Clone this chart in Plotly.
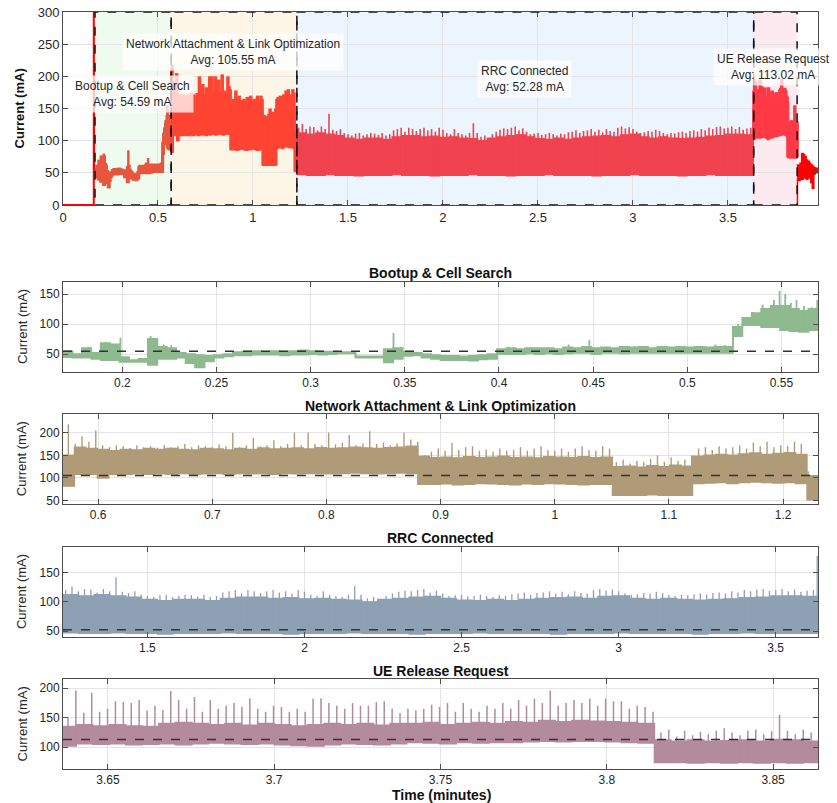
import plotly.graph_objects as go

# ---------------- data ----------------
phase_names = ["Bootup & Cell Search", "Network Attachment & Link Optimization",
               "RRC Connected", "UE Release Request"]
phase_avg = [54.59, 105.55, 52.28, 113.02]
phase_bounds = [0.1685, 0.5693, 1.2310, 3.6355, 3.8640]   # minutes

# Bootup & Cell Search: 80 samples (low / high envelope, mA)
boot_lo = [45, 44, 44, 42, 40, 40, 37, 37, 37, 32, 42, 42, 44, 35, 28, 38, 44, 46, 48, 48,
           49, 49, 49, 48, 49, 49, 50, 49, 50, 51, 51, 44, 44, 44, 36, 42, 47, 48, 44, 42,
           40, 40, 40, 39, 41, 42, 50, 50, 50, 51, 50, 51, 50, 51, 52, 52, 50, 52, 52, 51,
           52, 52, 52, 52, 52, 52, 52, 52, 52, 52, 52, 80, 98, 98, 95, 95, 90, 88, 87, 90]
boot_hi = [55, 50, 60, 52, 68, 66, 45, 40, 42, 75, 62, 60, 52, 50, 48, 47, 48, 50, 53, 54,
           55, 54, 55, 54, 55, 56, 55, 54, 54, 53, 53, 46, 46, 46, 58, 60, 54, 52, 50, 48,
           47, 47, 46, 47, 48, 50, 58, 60, 58, 60, 60, 60, 58, 61, 60, 62, 60, 61, 60, 62,
           61, 62, 60, 62, 61, 62, 61, 62, 61, 62, 62, 95, 110, 118, 125, 130, 130, 125, 122, 125]
boot_spike_t = [0.182, 0.191, 0.193, 0.199, 0.215, 0.217, 0.222, 0.226, 0.344, 0.348, 0.405,
                0.437, 0.448, 0.472, 0.515, 0.520, 0.527, 0.535, 0.540, 0.543, 0.546, 0.549,
                0.552, 0.555, 0.558, 0.562, 0.566, 0.569]
boot_spike_v = [62, 70, 68, 77, 80, 72, 66, 65, 85, 62, 62, 66, 73, 63, 66, 65, 100, 120, 132,
                125, 140, 155, 150, 135, 140, 130, 128, 140]

# Network Attachment & Link Optimization: 66 samples
net_lo = [82, 108, 108, 100, 108, 108, 109, 108, 109, 108, 110, 108, 109, 110, 108, 110, 109, 110, 108, 110,
          109, 110, 110, 109, 110, 111, 110, 109, 110, 111, 110, 86, 86, 87, 85, 86, 88, 87, 86, 85,
          87, 86, 88, 87, 86, 85, 86, 86, 62, 62, 62, 63, 62, 62, 62, 88, 89, 90, 88, 90,
          91, 90, 89, 90, 88, 52]
net_hi = [150, 168, 165, 163, 160, 163, 162, 165, 163, 165, 163, 162, 165, 164, 162, 165, 163, 166, 164, 165,
          166, 164, 167, 165, 166, 168, 166, 165, 167, 168, 170, 148, 145, 146, 144, 147, 145, 146, 148, 145,
          146, 144, 147, 146, 145, 147, 145, 146, 125, 126, 124, 127, 125, 128, 126, 148, 150, 152, 150, 153,
          155, 152, 154, 156, 152, 105]
net_spike_t0, net_spike_dt = 0.574, 0.006
net_spike_v = [218, 175, 192, 180, 205, 172, 168, 172, 170, 166, 172, 168, 170, 167, 172, 168, 170, 175, 168, 172,
               170, 168, 174, 170, 200, 168, 172, 188, 170, 172, 183, 170, 175, 200, 172, 200, 175, 172, 200, 174,
               178, 195, 172, 176, 203, 175, 178, 172, 176, 200, 185, 180, 150, 158, 165, 160, 178, 162, 168, 170,
               160, 163, 158, 165, 160, 162, 168, 160, 165, 170, 162, 160, 165, 158, 165, 170, 162, 160, 170, 165,
               135, 140, 132, 138, 135, 142, 150, 136, 145, 138, 140, 150, 165, 168, 162, 170, 165, 168, 172, 165,
               178, 170, 180, 168, 172, 170, 180, 175, 115, 100]

# RRC Connected: 48 samples
rrc_lo = [47, 46, 46, 47, 46, 46, 45, 46, 46, 46, 47, 46, 46, 46, 45, 46, 46, 46, 47, 46,
          46, 46, 45, 46, 46, 46, 47, 46, 46, 46, 46, 45, 46, 46, 46, 47, 46, 46, 46, 46,
          45, 46, 46, 47, 46, 46, 46, 46]
rrc_hi = [112, 110, 112, 110, 108, 104, 102, 104, 104, 102, 106, 108, 108, 106, 107, 105, 106, 104, 103, 100,
          104, 106, 108, 109, 106, 103, 102, 104, 102, 104, 106, 107, 108, 106, 109, 110, 106, 104, 106, 104,
          103, 104, 105, 107, 108, 110, 110, 109]
rrc_spike_t0, rrc_spike_dt = 1.240, 0.02
rrc_spike_v = [120, 126, 118, 122, 121, 116, 122, 118, 142, 117, 115, 118, 112, 110, 108, 111, 112, 108, 110, 112,
               111, 109, 112, 108, 110, 116, 118, 120, 114, 120, 118, 115, 118, 120, 116, 118, 114, 120, 117, 112,
               110, 118, 112, 110, 108, 112, 127, 112, 106, 108, 104, 110, 114, 117, 119, 118, 120, 122, 116, 119,
               114, 110, 111, 112, 109, 110, 112, 110, 108, 111, 110, 113, 114, 116, 112, 115, 116, 118, 114, 117,
               113, 118, 115, 114, 120, 122, 119, 121, 118, 114, 112, 113, 115, 114, 117, 115, 112, 110, 112, 111,
               113, 114, 112, 115, 116, 114, 118, 116, 120, 118, 121, 122, 119, 120, 122, 118, 121, 117, 119, 120]
rrc_extra_t = [3.632]
rrc_extra_v = [178]

# UE Release Request: 46 samples
ue_lo = [102, 106, 105, 106, 104, 105, 106, 104, 106, 107, 106, 105, 106, 104, 103, 102, 104, 106, 105, 104,
         106, 108, 107, 106, 108, 107, 108, 108, 109, 110, 109, 110, 110, 109, 108, 107, 74, 74, 73, 74,
         73, 74, 73, 74, 73, 74]
ue_hi = [135, 138, 136, 138, 136, 135, 140, 142, 140, 138, 140, 137, 140, 138, 136, 138, 140, 138, 140, 137,
         140, 140, 142, 138, 140, 142, 140, 143, 142, 145, 143, 145, 144, 143, 142, 140, 112, 110, 112, 110,
         111, 112, 110, 113, 112, 110]
ue_spike_t0, ue_spike_dt = 3.638, 0.002377
ue_spike_v = [150, 196, 158, 192, 160, 165, 178, 177, 175, 180, 162, 170, 163, 195, 180, 165, 185, 160, 180, 165,
              170, 175, 168, 183, 165, 160, 170, 168, 160, 165, 160, 182, 183, 175, 170, 165, 175, 170, 170, 176,
              178, 165, 158, 165, 162, 165, 172, 168, 175, 160, 175, 165, 160, 170, 165, 175, 165, 180, 170, 182,
              175, 196, 170, 175, 180, 175, 182, 170, 182, 178, 178, 165, 170, 168, 160, 125, 130, 118, 128, 120,
              126, 122, 128, 132, 125, 120, 128, 130, 122, 127, 155, 128, 122, 130, 125, 130]

# before bootup and after release (overview only)
pre_t = [0.0, 0.162, 0.162, 0.164, 0.1685]
pre_v = [0, 0, 300, 55, 48]
post_t = [3.864, 3.866, 3.872, 3.880, 3.888, 3.896, 3.904, 3.912, 3.920, 3.928, 3.936, 3.944,
          3.952, 3.960, 3.968, 3.974]
post_lo = [0, 40, 38, 42, 40, 45, 42, 40, 45, 42, 35, 26, 48, 50, 52, 52]
post_hi = [60, 62, 60, 65, 80, 78, 75, 70, 68, 65, 62, 60, 58, 56, 57, 57]

# ---------------- styling ----------------
FONT = "Liberation Sans, Arial, sans-serif"
TXT = "#262626"
AXC = "#4d4d4d"
top_colors = ["#e8553f", "#ff4433", "#f0434f", "#ff3a47"]
sub_colors = ["#8fb98f", "#b09b78", "#8ea0b4", "#b38b9b"]
patch_colors = ["#eefbee", "#fdf5e6", "#ecf4fd", "#fdeaf1"]
sub_ranges_x = [[0.1685, 0.5694], [0.5693, 1.2306], [1.2314, 3.6346], [3.6365, 3.8635]]
sub_ranges_y = [[20.5, 170.5], [42.7, 241.2], [40, 194], [63, 215]]
sub_dtick_x = [0.05, 0.1, 0.5, 0.05]
sub_dtick_y = [50, 50, 50, 50]
top_dom = [0.7451, 1.0]
sub_dom = [[0.5248, 0.6437], [0.3501, 0.4690], [0.1744, 0.2937], [0.0, 0.1185]]
title_y = [0.6548, 0.4799, 0.3048, 0.1295]

phases = [
    dict(lo=boot_lo, hi=boot_hi, st=boot_spike_t, sv=boot_spike_v),
    dict(lo=net_lo, hi=net_hi,
         st=[net_spike_t0 + k * net_spike_dt for k in range(len(net_spike_v))], sv=net_spike_v),
    dict(lo=rrc_lo, hi=rrc_hi,
         st=[rrc_spike_t0 + k * rrc_spike_dt for k in range(len(rrc_spike_v))] + rrc_extra_t,
         sv=rrc_spike_v + rrc_extra_v),
    dict(lo=ue_lo, hi=ue_hi,
         st=[ue_spike_t0 + k * ue_spike_dt for k in range(len(ue_spike_v))], sv=ue_spike_v),
]


def sample_x(t0, t1, n):
    dt = (t1 - t0) / n
    return [t0 + i * dt for i in range(n)] + [t1]


def add_band(fig, x, lo, hi, color, xa, ya, w=1.0):
    ylo = list(lo) + [lo[-1]] if len(x) == len(lo) + 1 else list(lo)
    yhi = list(hi) + [hi[-1]] if len(x) == len(hi) + 1 else list(hi)
    fig.add_trace(go.Scatter(x=x, y=ylo, mode="lines", xaxis=xa, yaxis=ya,
                             line=dict(color=color, width=w, shape="hv"),
                             hoverinfo="skip", showlegend=False))
    fig.add_trace(go.Scatter(x=x, y=yhi, mode="lines", xaxis=xa, yaxis=ya, fill="tonexty",
                             fillcolor=color, line=dict(color=color, width=w, shape="hv"),
                             hoverinfo="skip", showlegend=False))


def add_spikes(fig, t0, t1, lo, st, sv, color, xa, ya, w=1.0):
    n = len(lo)
    dt = (t1 - t0) / n
    xs, ys = [], []
    for t, h in zip(st, sv):
        i = min(n - 1, max(0, int((t - t0) / dt)))
        xs += [t, t, None]
        ys += [lo[i], h, None]
    fig.add_trace(go.Scatter(x=xs, y=ys, mode="lines", xaxis=xa, yaxis=ya,
                             line=dict(color=color, width=w), hoverinfo="skip", showlegend=False))


fig = go.Figure()

# overview trace
fig.add_trace(go.Scatter(x=pre_t, y=pre_v, mode="lines", xaxis="x", yaxis="y",
                         line=dict(color="#ff0000", width=2), hoverinfo="skip", showlegend=False))
top_w = [3.0, 1.6, 1.2, 1.6]
top_spike_w = [2.5, 3.5, 1.6, 3.5]
for k, p in enumerate(phases):
    t0, t1 = phase_bounds[k], phase_bounds[k + 1]
    x = sample_x(t0, t1, len(p["lo"]))
    add_band(fig, x, p["lo"], p["hi"], top_colors[k], "x", "y", w=top_w[k])
    add_spikes(fig, t0, t1, p["lo"], p["st"], p["sv"], top_colors[k], "x", "y", w=top_spike_w[k])
add_band(fig, post_t, post_lo, post_hi, "#ff0000", "x", "y", w=1.5)

# zoomed phases
sub_w = [1.8, 1.4, 1.3, 1.5]
for k, p in enumerate(phases):
    t0, t1 = phase_bounds[k], phase_bounds[k + 1]
    xa, ya = "x%d" % (k + 2), "y%d" % (k + 2)
    x = sample_x(t0, t1, len(p["lo"]))
    add_band(fig, x, p["lo"], p["hi"], sub_colors[k], xa, ya, w=sub_w[k])
    add_spikes(fig, t0, t1, p["lo"], p["st"], p["sv"], sub_colors[k], xa, ya, w=sub_w[k])


def ax_style(size=12, **kw):
    d = dict(showgrid=True, gridcolor="#e4e4e4", gridwidth=1, showline=True, linecolor=AXC,
             linewidth=1, mirror="ticks", ticks="inside", ticklen=5, tickcolor=AXC,
             zeroline=False, automargin=False, ticklabeloverflow="allow",
             tickfont=dict(family=FONT, size=size, color=TXT))
    d.update(kw)
    return d


layout = dict(
    width=837, height=803, paper_bgcolor="white", plot_bgcolor="white",
    margin=dict(l=63, r=19, t=12, b=34, autoexpand=False), showlegend=False,
    font=dict(family=FONT, color=TXT),
    xaxis=ax_style(13, domain=[0, 1], range=[0, 3.974], dtick=0.5, tick0=0, anchor="y"),
    yaxis=ax_style(13, domain=top_dom, range=[0, 300], dtick=50, tick0=0, anchor="x"),
)
for k in range(4):
    layout["xaxis%d" % (k + 2)] = ax_style(12, domain=[0, 1], range=sub_ranges_x[k],
                                           dtick=sub_dtick_x[k], tick0=0, anchor="y%d" % (k + 2))
    layout["yaxis%d" % (k + 2)] = ax_style(12, domain=sub_dom[k], range=sub_ranges_y[k],
                                           dtick=sub_dtick_y[k], tick0=0, anchor="x%d" % (k + 2))
fig.update_layout(**layout)

shapes = []
for k in range(4):
    x0, x1 = phase_bounds[k], phase_bounds[k + 1]
    shapes.append(dict(type="rect", xref="x", yref="y", x0=x0, x1=x1, y0=0, y1=300,
                       fillcolor=patch_colors[k], line=dict(width=0), layer="below"))
for k in range(4):
    x0, x1 = phase_bounds[k], phase_bounds[k + 1]
    shapes.append(dict(type="rect", xref="x", yref="y", x0=x0, x1=x1, y0=0, y1=300,
                       fillcolor="rgba(0,0,0,0)", line=dict(color="#111111", width=1.5, dash="dash"),
                       layer="above"))
for k in range(4):
    shapes.append(dict(type="line", xref="x%d domain" % (k + 2), yref="y%d" % (k + 2),
                       x0=0, x1=1, y0=phase_avg[k], y1=phase_avg[k],
                       line=dict(color="#333333", width=1.5, dash="dash"), layer="above"))
fig.update_layout(shapes=shapes)

ann = []
label_pos = [(0.366, 173), (0.895, 238), (2.428, 196), (3.741, 215)]
for k in range(4):
    ann.append(dict(xref="x", yref="y", x=label_pos[k][0], y=label_pos[k][1],
                    text="%s<br>Avg: %.2f mA" % (phase_names[k], phase_avg[k]),
                    showarrow=False, align="center", bgcolor="rgba(255,255,255,0.75)",
                    borderpad=3, font=dict(family=FONT, size=12, color=TXT)))
for k in range(4):
    ann.append(dict(xref="paper", yref="paper", x=0.5, y=title_y[k], yanchor="middle",
                    text="<b>%s</b>" % phase_names[k], showarrow=False,
                    font=dict(family=FONT, size=14, color="#111111")))
    ann.append(dict(xref="paper", yref="paper", x=-0.054,
                    y=(sub_dom[k][0] + sub_dom[k][1]) / 2, textangle=-90,
                    text="Current (mA)", showarrow=False, xanchor="center", yanchor="middle",
                    font=dict(family=FONT, size=13, color=TXT)))
ann.append(dict(xref="paper", yref="paper", x=-0.057, y=(top_dom[0] + top_dom[1]) / 2,
                textangle=-90, text="<b>Current (mA)</b>", showarrow=False,
                xanchor="center", yanchor="middle", font=dict(family=FONT, size=13, color="#111111")))
ann.append(dict(xref="paper", yref="paper", x=0.501, y=-0.0343, yanchor="middle",
                text="<b>Time (minutes)</b>", showarrow=False,
                font=dict(family=FONT, size=14, color="#111111")))
fig.update_layout(annotations=ann)

# remove the default 8px page margin so the figure sits at the window's corner
fig.write_html("out.html", config={"displayModeBar": False},
               post_script="document.body.style.margin='0px';")
